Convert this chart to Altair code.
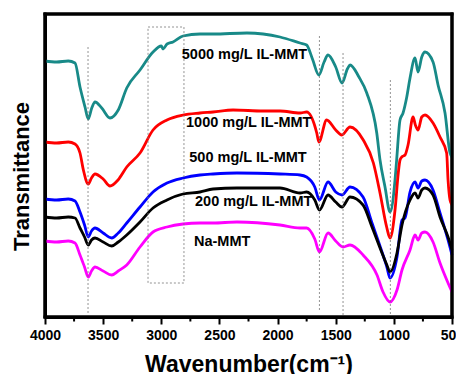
import altair as alt
import pandas as pd

# ---- data (wavenumber cm-1, transmittance a.u.) ----
wn_5000 = [4000, 3900, 3800, 3742, 3699, 3656, 3628, 3598, 3570, 3512, 3441, 3370, 3297, 3183, 3071,
           3000, 2985, 2950, 2899, 2813, 2667, 2555, 2263, 1979, 1807, 1750, 1700, 1645, 1600, 1566,
           1500, 1446, 1400, 1377, 1300, 1233, 1147, 1119, 1076, 1033, 990, 976, 947, 921, 889, 861,
           818, 792, 760, 732, 663, 620, 560, 517, 500]
t_5000 = [256, 255, 256, 254, 230, 210, 198, 209, 215, 209, 199, 207, 229, 247, 265,
          271, 268, 273, 275, 281, 283, 283, 284, 280, 274, 272, 258, 242, 255, 262,
          250, 234, 248, 252, 240, 224, 184, 157, 130, 105, 137, 157, 197, 204, 220, 239,
          259, 245, 260, 265, 255, 232, 204, 164, 160]

wn_1000 = [4000, 3900, 3800, 3742, 3699, 3670, 3628, 3600, 3570, 3500, 3441, 3372, 3297, 3183, 3071,
           2951, 2813, 2667, 2555, 2383, 2125, 1979, 1807, 1750, 1663, 1645, 1578, 1500, 1448, 1377,
           1263, 1176, 1119, 1062, 1033, 990, 962, 947, 932, 904, 878, 835, 815, 792, 760, 732, 663,
           603, 546, 534, 517, 500]
t_1000 = [175, 174, 175, 173, 164, 147, 133, 139, 143, 138, 131, 137, 150, 164, 187,
          197, 202, 204, 205, 207, 206, 206, 204, 205, 184, 175, 197, 187, 182, 190,
          177, 154, 124, 90, 79, 107, 144, 157, 160, 162, 172, 200, 192, 187, 200, 202, 194,
          180, 164, 137, 117, 112]

wn_500 = [4000, 3900, 3800, 3742, 3699, 3660, 3628, 3600, 3570, 3500, 3426, 3370, 3297, 3183, 3071,
          2951, 2813, 2667, 2555, 2349, 1979, 1807, 1750, 1680, 1640, 1566, 1500, 1446, 1377, 1265,
          1188, 1102, 1060, 1033, 973, 930, 904, 861, 818, 792, 760, 732, 663, 603, 534, 500]
t_500 = [118, 117, 118, 116, 105, 92, 80, 86, 89, 84, 79, 84, 94, 110, 125,
         134, 139, 142, 143, 144, 143, 142, 140, 130, 117, 135, 125, 122, 130, 120,
         94, 65, 50, 39, 60, 97, 99, 125, 135, 129, 136, 137, 127, 104, 77, 62]

wn_200 = [4000, 3900, 3800, 3742, 3699, 3660, 3628, 3600, 3570, 3500, 3426, 3370, 3297, 3183, 3071,
          2951, 2813, 2667, 2555, 2349, 1979, 1807, 1750, 1680, 1640, 1566, 1500, 1446, 1377, 1265,
          1188, 1102, 1060, 1033, 973, 930, 861, 818, 792, 760, 732, 663, 603, 534, 500]
t_200 = [100, 99, 100, 99, 89, 80, 72, 77, 79, 75, 71, 75, 82, 95, 109,
         117, 123, 125, 128, 129, 129, 124, 125, 117, 107, 122, 115, 110, 120, 112,
         90, 64, 52, 45, 64, 92, 117, 124, 119, 127, 129, 122, 100, 80, 67]

wn_na = [4000, 3900, 3800, 3742, 3699, 3660, 3628, 3600, 3570, 3500, 3426, 3370, 3297, 3183, 3071,
         2951, 2813, 2667, 2555, 2349, 1979, 1807, 1750, 1680, 1640, 1566, 1500, 1437, 1377, 1265,
         1145, 1093, 1033, 973, 930, 861, 818, 792, 760, 732, 663, 603, 534, 500]
t_na = [76, 75, 76, 74, 62, 50, 40, 46, 50, 46, 42, 46, 52, 70, 85,
        90, 93, 94, 94, 95, 92, 89, 89, 78, 65, 84, 76, 70, 72, 62,
        42, 25, 15, 27, 47, 67, 82, 77, 84, 85, 75, 54, 34, 25]

series_names = ["5000 mg/L IL-MMT", "1000 mg/L IL-MMT", "500 mg/L IL-MMT", "200 mg/L IL-MMT", "Na-MMT"]
series_colors = ["#188A88", "#FF0000", "#0000FF", "#000000", "#FF00FF"]
label_wn = [2824, 2787, 2759, 2710, 2719]
label_t = [262, 194, 159, 115, 75]

# dotted guide lines (wavenumber, bottom, top)
guide_wn = [3630, 1640, 1437, 1030]
guide_lo = [0, 7, 2, 3]
guide_hi = [270, 281, 265, 238]

# dotted box around C-H stretching region
box_wn = [3114, 2805]
box_t = [34, 290]

# plot frame as four filled bars (left, right, top, bottom)
bar_x1 = [4013, 513, 4013, 4013]
bar_x2 = [3987, 487, 487, 487]
bar_y1 = [-1.5, -1.5, 301.5, -1.5]
bar_y2 = [304.5, 304.5, 304.5, 1.5]

major_ticks = [4000, 3500, 3000, 2500, 2000, 1500, 1000, 500]
minor_ticks = [3750, 3250, 2750, 2250, 1750, 1250, 750]

# ---- build tables ----
rows = []
for name, wn, t in zip(series_names,
                       [wn_5000, wn_1000, wn_500, wn_200, wn_na],
                       [t_5000, t_1000, t_500, t_200, t_na]):
    for a, b in zip(wn, t):
        rows.append({"series": name, "wn": a, "t": b})
df = pd.DataFrame(rows)
labels_df = pd.DataFrame({"series": series_names, "wn": label_wn, "t": label_t})
guides_df = pd.DataFrame({"wn": guide_wn, "lo": guide_lo, "hi": guide_hi})
box_df = pd.DataFrame({"x1": [box_wn[0]], "x2": [box_wn[1]], "y1": [box_t[0]], "y2": [box_t[1]]})
bars_df = pd.DataFrame({"bx1": bar_x1, "bx2": bar_x2, "by1": bar_y1, "by2": bar_y2})
minor_df = pd.DataFrame({"wn": minor_ticks})

W, H = 407, 303
FONT = "Liberation Sans"

xscale = alt.Scale(domain=[500, 4000], reverse=True, nice=False, zero=False)
yscale = alt.Scale(domain=[0, 303], nice=False, zero=False)

x_axis = alt.Axis(values=major_ticks, format="d", domain=True, domainColor="black", domainWidth=3,
                  grid=False, tickSize=7, tickWidth=2, tickColor="black",
                  labelFont=FONT, labelFontSize=14, labelFontWeight="bold", labelColor="black",
                  labelPadding=4, labelFlush=False, labelOverlap=False,
                  title="Wavenumber(cm\u207b\u00b9)", titleFont=FONT, titleFontSize=23,
                  titleFontWeight="bold", titleColor="black",
                  titleBaseline="alphabetic", titleY=54)
y_axis = alt.Axis(labels=False, ticks=False, domain=True, domainColor="black", domainWidth=3,
                  grid=False,
                  title="Transmittance", titleFont=FONT, titleFontSize=22,
                  titleFontWeight="bold", titleColor="black",
                  titleBaseline="alphabetic", titleX=-17, titleY=162, titleAngle=270)

color = alt.Color("series:N", scale=alt.Scale(domain=series_names, range=series_colors), legend=None)

lines = alt.Chart(df).mark_line(strokeWidth=2.8, interpolate="monotone").encode(
    x=alt.X("wn:Q", scale=xscale, axis=x_axis),
    y=alt.Y("t:Q", scale=yscale, axis=y_axis),
    color=color,
    detail="series:N",
)

guides = alt.Chart(guides_df).mark_rule(color="#777777", strokeWidth=0.8, strokeDash=[2, 2]).encode(
    x=alt.X("wn:Q", scale=xscale),
    y=alt.Y("lo:Q", scale=yscale),
    y2="hi:Q",
)

box = alt.Chart(box_df).mark_rect(fillOpacity=0, stroke="#777777", strokeWidth=0.8,
                                  strokeDash=[2, 2]).encode(
    x=alt.X("x1:Q", scale=xscale),
    x2="x2:Q",
    y=alt.Y("y1:Q", scale=yscale),
    y2="y2:Q",
)

bars = alt.Chart(bars_df).mark_rect(color="#000000", opacity=1).encode(
    x=alt.X("bx1:Q", scale=xscale),
    x2="bx2:Q",
    y=alt.Y("by1:Q", scale=yscale),
    y2="by2:Q",
)

minor = alt.Chart(minor_df).mark_rule(color="black", strokeWidth=2).encode(
    x=alt.X("wn:Q", scale=xscale),
    y=alt.value(H),
    y2=alt.value(H + 4.5),
)

texts = alt.Chart(labels_df).mark_text(align="left", baseline="middle", font=FONT,
                                       fontSize=14.5, fontWeight="bold", color="black").encode(
    x=alt.X("wn:Q", scale=xscale),
    y=alt.Y("t:Q", scale=yscale),
    text="series:N",
)

chart = alt.layer(lines, box, guides, texts, minor, bars).properties(
    width=W, height=H,
    autosize=alt.AutoSizeParams(type="none"),
    padding={"left": 37, "top": 6, "right": 4, "bottom": 62},
    background="white",
).configure_view(stroke="black", strokeWidth=3)

chart.save("out.html", embed_options={"renderer": "svg", "actions": False})
